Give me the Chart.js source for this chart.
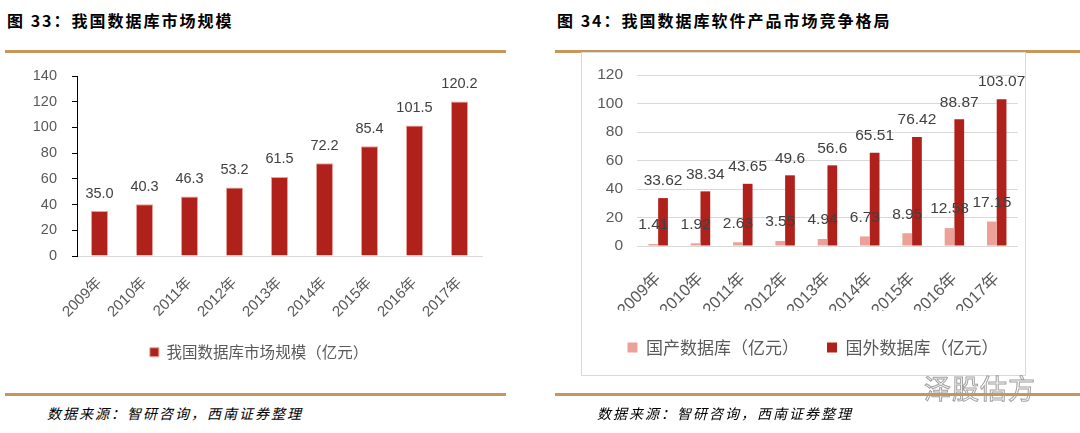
<!DOCTYPE html>
<html>
<head>
<meta charset="utf-8">
<script src="https://cdn.jsdelivr.net/npm/chart.js@4.4.0/dist/chart.umd.min.js"></script>
<style>
  html, body { margin:0; padding:0; background:#fff; }
  body { width:1080px; height:433px; position:relative; overflow:hidden; font-family:"Noto Sans CJK SC","Liberation Sans",sans-serif; }
  .title { position:absolute; top:8px; font-size:16px; font-weight:bold; color:#000; letter-spacing:2px; white-space:nowrap; }
  .gold { position:absolute; height:3px; background:#c6965a; }
  .src { position:absolute; top:403px; font-size:14px; font-style:italic; color:#000; letter-spacing:2px; white-space:nowrap; }
  .box { position:absolute; left:581px; top:52px; width:445px; height:324px; border:1px solid #d9d9d9; box-sizing:border-box; }
  .wm { position:absolute; left:924px; top:368px; font-size:27px; color:#fff; -webkit-text-stroke:1px #a0a0a0; letter-spacing:1px; white-space:nowrap; }
  canvas { position:absolute; }
</style>
</head>
<body>
<div class="title" style="left:7px;">图 33：我国数据库市场规模</div>
<div class="title" style="left:557px;">图 34：我国数据库软件产品市场竞争格局</div>
<div class="gold" style="left:5px; top:50px; width:501px;"></div>
<div class="gold" style="left:555px; top:50px; width:525px;"></div>
<div class="box"></div>
<div style="position:absolute;left:20px;top:60px;width:486px;height:320px;"><canvas id="c1"></canvas></div>
<div style="position:absolute;left:581px;top:53px;width:445px;height:323px;"><canvas id="c2"></canvas></div>
<div class="wm">泽股估方</div>
<div class="gold" style="left:5px; top:393px; width:501px;"></div>
<div class="gold" style="left:555px; top:393px; width:525px;"></div>
<div class="src" style="left:47px;">数据来源：智研咨询，西南证券整理</div>
<div class="src" style="left:597px;">数据来源：智研咨询，西南证券整理</div>
<script>
const years = ["2009年","2010年","2011年","2012年","2013年","2014年","2015年","2016年","2017年"];
const marketSize = [35.0, 40.3, 46.3, 53.2, 61.5, 72.2, 85.4, 101.5, 120.2];
const marketSizeLabels = ["35.0","40.3","46.3","53.2","61.5","72.2","85.4","101.5","120.2"];
const domestic = [1.41, 1.92, 2.63, 3.55, 4.94, 6.73, 8.95, 12.58, 17.15];
const foreign = [33.62, 38.34, 43.65, 49.6, 56.6, 65.51, 76.42, 88.87, 103.07];
const leftTicks = [0, 20, 40, 60, 80, 100, 120, 140];
const rightTicks = [0, 20, 40, 60, 80, 100, 120];

const barLabels = {
  id: 'barLabels',
  afterDatasetsDraw(chart, args, opts) {
    const ctx = chart.ctx;
    chart.data.datasets.forEach((ds, i) => {
      const meta = chart.getDatasetMeta(i);
      if (meta.hidden) return;
      ctx.save();
      ctx.font = opts.font;
      ctx.fillStyle = opts.color;
      ctx.textAlign = 'center';
      ctx.textBaseline = 'middle';
      const off = (opts.offsets && opts.offsets[i] != null) ? opts.offsets[i] : 17;
      meta.data.forEach((bar, j) => {
        const txt = ds.labelTexts ? ds.labelTexts[j] : String(ds.data[j]);
        ctx.fillText(txt, bar.x, bar.y - off);
      });
      ctx.restore();
    });
  }
};

const legendShift = {
  id: 'legendShift',
  afterLayout(chart, args, opts) {
    const lg = chart.legend;
    if (lg && opts.dx) { lg.left += opts.dx; lg.right += opts.dx; }
  }
};

function fitY(w) {
  return function (s) { s.width = w; s.paddingTop = 0; s.paddingBottom = 0; };
}
function fitX(h) {
  return function (s) { s.height = h; s.paddingTop = 0; s.paddingBottom = 0; };
}

new Chart(document.getElementById('c1'), {
  type: 'bar',
  data: {
    labels: years,
    datasets: [{
      label: '我国数据库市场规模（亿元）',
      data: marketSize,
      labelTexts: marketSizeLabels,
      backgroundColor: '#b0211b',
      borderColor: '#e7a29a',
      borderWidth: 1,
      barPercentage: 0.38,
      categoryPercentage: 1.0
    }]
  },
  options: {
    responsive: true,
    maintainAspectRatio: false,
    animation: false,
    layout: { padding: { top: 16, right: 24, left: 0, bottom: 10 } },
    plugins: {
      legend: {
        position: 'bottom',
        labels: {
          boxWidth: 9, boxHeight: 9, padding: 10,
          color: '#595959',
          font: { family: 'Noto Sans CJK SC', size: 15.5 }
        }
      },
      legendShift: { dx: 8 },
      tooltip: { enabled: false },
      barLabels: { font: '14.5px "Liberation Sans"', color: '#404040', offsets: [17.5] }
    },
    scales: {
      x: {
        grid: { display: false },
        border: { display: true, color: '#d9d9d9' },
        ticks: {
          minRotation: 45, maxRotation: 45, padding: 10,
          color: '#595959',
          font: { family: '"Liberation Sans","Noto Sans CJK SC"', size: 15 }
        },
        afterFit: fitX(78.5)
      },
      y: {
        min: 0, max: 140,
        afterBuildTicks(s) { s.ticks = leftTicks.map(v => ({ value: v })); },
        grid: { drawOnChartArea: false, drawTicks: true, tickLength: 5, color: '#000' },
        border: { display: true, color: '#000', width: 1 },
        ticks: {
          padding: 15,
          color: '#595959',
          font: { family: 'Liberation Sans', size: 14.5 }
        },
        afterFit: fitY(57)
      }
    }
  },
  plugins: [barLabels, legendShift]
});

new Chart(document.getElementById('c2'), {
  type: 'bar',
  data: {
    labels: years,
    datasets: [{
      label: '国产数据库（亿元）',
      data: domestic,
      backgroundColor: '#eba198',
      barPercentage: 1.0,
      categoryPercentage: 0.46
    }, {
      label: '国外数据库（亿元）',
      data: foreign,
      backgroundColor: '#b0211b',
      barPercentage: 1.0,
      categoryPercentage: 0.46
    }]
  },
  options: {
    responsive: true,
    maintainAspectRatio: false,
    animation: false,
    layout: { padding: { top: 22, right: 5, left: 0, bottom: 10 } },
    plugins: {
      legend: {
        position: 'bottom',
        labels: {
          boxWidth: 10, boxHeight: 10, padding: 28,
          color: '#595959',
          font: { family: 'Noto Sans CJK SC', size: 17 }
        }
      },
      legendShift: { dx: 12 },
      tooltip: { enabled: false },
      barLabels: { font: '15.5px "Liberation Sans"', color: '#404040', offsets: [19, 17] }
    },
    scales: {
      x: {
        grid: { display: false },
        border: { display: false },
        ticks: {
          minRotation: 45, maxRotation: 45, padding: 15,
          color: '#595959',
          font: { family: '"Liberation Sans","Noto Sans CJK SC"', size: 16.5 }
        },
        afterFit: fitX(65)
      },
      y: {
        min: 0, max: 120,
        afterBuildTicks(s) { s.ticks = rightTicks.map(v => ({ value: v })); },
        grid: { color: '#d9d9d9', drawTicks: false },
        border: { display: false },
        ticks: {
          padding: 14,
          color: '#595959',
          font: { family: 'Liberation Sans', size: 15.5 }
        },
        afterFit: fitY(56)
      }
    }
  },
  plugins: [barLabels, legendShift]
});
</script>
</body>
</html>
